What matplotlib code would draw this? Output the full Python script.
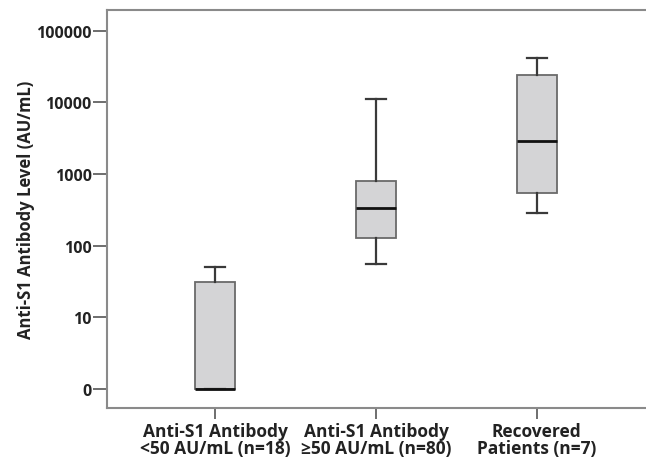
import numpy as np
import matplotlib
matplotlib.use("Agg")
import matplotlib.pyplot as plt

plt.rcParams['font.family'] = ['Open Sans', 'DejaVu Sans']

# groups and box statistics (AU/mL, log axis, "0" drawn at 1)
groups = ["Anti-S1 Antibody\n<50 AU/mL (n=18)",
          "Anti-S1 Antibody\n\u226550 AU/mL (n=80)",
          "Recovered\nPatients (n=7)"]
whislo = [1, 56, 287]
q1 = [1, 128, 546]
med = [1, 335, 2900]
q3 = [31, 800, 24300]
whishi = [50, 11200, 42000]

ytick_vals = [1, 10, 100, 1000, 10000, 100000]
ytick_labels = ["0", "10", "100", "1000", "10000", "100000"]

stats = []
for i in range(len(groups)):
    stats.append(dict(whislo=whislo[i], q1=q1[i], med=med[i], q3=q3[i],
                      whishi=whishi[i], fliers=[], label=groups[i]))

fig = plt.figure(figsize=(6.46, 4.6), dpi=100)
ax = fig.add_axes([107/646, 1 - 409/460, 1 - 107/646 + 0.01, (409 - 11)/460])

ax.bxp(stats, positions=[1, 2, 3], widths=0.25, capwidths=0.125,
       patch_artist=True, showfliers=False,
       boxprops=dict(facecolor="#d4d4d6", edgecolor="#6a6a6a", linewidth=1.3),
       whiskerprops=dict(color="#3a3a3a", linewidth=1.6),
       capprops=dict(color="#3a3a3a", linewidth=1.6),
       medianprops=dict(color="#111111", linewidth=2.0))

ax.set_yscale("log")
ax.set_ylim(10 ** -0.27, 10 ** 5.29)
ax.set_xlim(0.327, 3.72)
ax.set_yticks(ytick_vals)
ax.set_yticklabels(ytick_labels)
ax.minorticks_off()

for s in ["left", "bottom", "top"]:
    ax.spines[s].set_color("#8a8a8a")
    ax.spines[s].set_linewidth(1.5)
ax.spines["right"].set_visible(False)

ax.tick_params(axis="both", width=1.2, color="#555555", labelcolor="#222222")
ax.tick_params(axis="y", labelsize=11.5, length=10, pad=1)
ax.tick_params(axis="x", labelsize=12.5, length=8, pad=2)
for lab in ax.get_xticklabels() + ax.get_yticklabels():
    lab.set_fontweight("bold")
for lab in ax.get_xticklabels():
    lab.set_linespacing(0.95)

ax.set_ylabel("Anti-S1 Antibody Level (AU/mL)", fontsize=12,
              fontweight="bold", color="#222222", labelpad=1)

fig.savefig("out.png", dpi=100)
